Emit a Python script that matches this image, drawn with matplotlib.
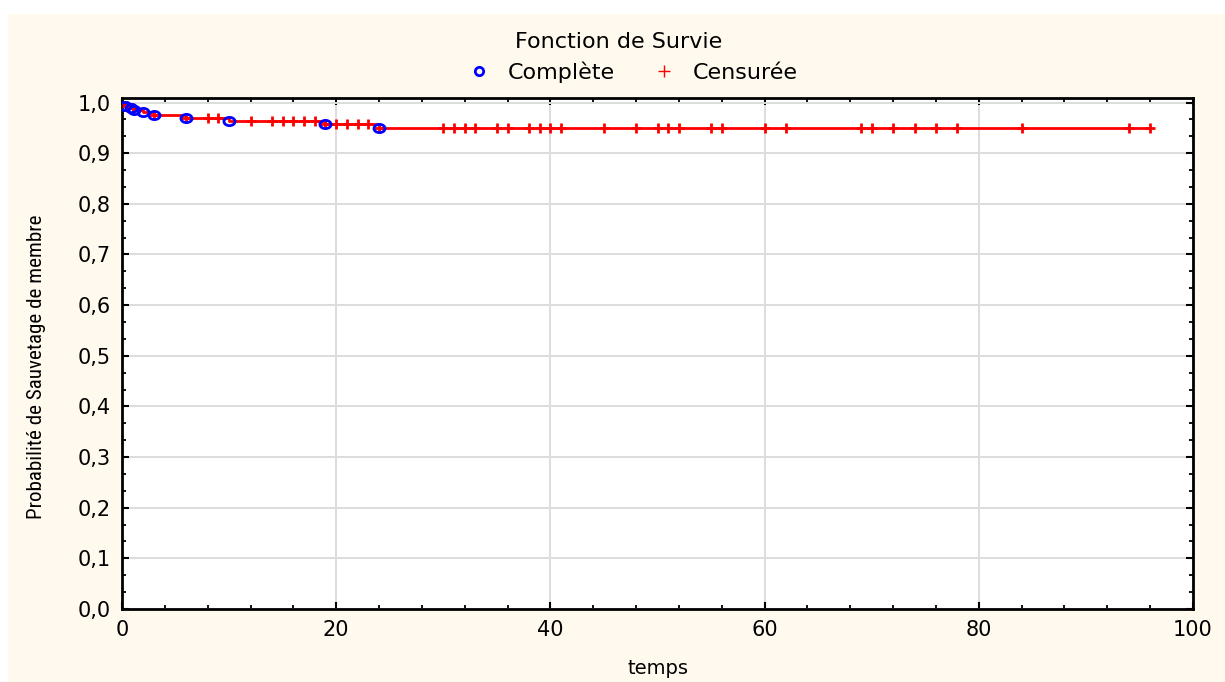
import numpy as np
import matplotlib
matplotlib.use("Agg")
import matplotlib.pyplot as plt
from matplotlib.path import Path
from matplotlib.transforms import Affine2D
from matplotlib.ticker import AutoMinorLocator, FuncFormatter
from matplotlib.lines import Line2D
from matplotlib.patches import Rectangle
from matplotlib import font_manager
from matplotlib.font_manager import FontProperties

# ---- data ----
event_times = [0.3, 0.8, 1.1, 2, 3, 6, 10, 19, 24]
event_surv = [0.994, 0.990, 0.986, 0.982, 0.976, 0.969, 0.963, 0.957, 0.949]
censored_times = [0.5, 1, 3, 6, 8, 9, 12, 14, 15, 16, 17, 18, 19, 20, 21, 22, 23, 24,
                  30, 31, 32, 33, 35, 36, 38, 39, 40, 41, 45, 48, 50, 51, 52, 55, 56,
                  60, 62, 69, 70, 72, 74, 76, 78, 84, 94, 96]
x_ticks = [0, 20, 40, 60, 80, 100]
y_ticks = [0.0, 0.1, 0.2, 0.3, 0.4, 0.5, 0.6, 0.7, 0.8, 0.9, 1.0]

title = "Fonction de Survie"
label_event = "Complète"
label_cens = "Censurée"
xlabel = "temps"
ylabel = "Probabilité de Sauvetage de membre"

# step function built from the events
step_t = np.array([0.0] + list(event_times) + [max(censored_times)])
step_s = np.array([1.0] + list(event_surv) + [event_surv[-1]])

def level(t):
    idx = np.searchsorted(step_t[:-1], t, side="right") - 1
    return step_s[idx]

cens_surv = [level(t) for t in censored_times]

# look for a condensed/narrow face for the y label
def find_condensed():
    cands = []
    for f in font_manager.fontManager.ttflist:
        nm = f.name
        path = f.fname
        low = (nm + " " + path).lower()
        is_cond = (str(f.stretch) in ("condensed", "semi-condensed", "extra-condensed")
                   or "narrow" in low or "condensed" in low)
        if not is_cond:
            continue
        if f.style != "normal":
            continue
        if f.weight not in (400, "normal", "regular"):
            continue
        if "bold" in low or "italic" in low or "light" in low or "oblique" in low \
                or "semibold" in low or "medium" in low or "thin" in low or "black" in low:
            continue
        if "cjk" in low or "mono" in low:
            continue
        pri = 9
        for i, key in enumerate(["liberation", "roboto", "open", "noto", "dejavu"]):
            if key in low:
                pri = i
                break
        cands.append((pri, path))
    cands.sort()
    return cands[0][1] if cands else None

cond_path = find_condensed()

W, H = 1225, 682
fig = plt.figure(figsize=(W / 100, H / 100), dpi=100)
fig.patch.set_facecolor("white")
cream = "#FFF9EE"
fig.patches.append(Rectangle((8 / W, 0), 1 - 8 / W, 1 - 14 / H, transform=fig.transFigure,
                             facecolor=cream, edgecolor="none", zorder=-10))

ax = fig.add_axes([122 / W, 1 - 609 / H, (1193 - 122) / W, (609 - 98) / H])
ax.set_facecolor("white")
ax.set_xlim(0, 100)
ax.set_ylim(0, 1.009)

ax.set_xticks(x_ticks)
ax.set_yticks(y_ticks)
ax.xaxis.set_minor_locator(AutoMinorLocator(5))
ax.yaxis.set_minor_locator(AutoMinorLocator(3))
ax.yaxis.set_major_formatter(FuncFormatter(lambda v, p: f"{v:.1f}".replace(".", ",")))
ax.xaxis.set_major_formatter(FuncFormatter(lambda v, p: f"{v:.0f}"))

ax.grid(True, which="major", color="#DDDDDD", linewidth=1.4, zorder=0)
ax.set_axisbelow(True)

ax.tick_params(which="both", direction="in", top=True, right=True, colors="black")
ax.tick_params(which="major", length=5, width=1.5, pad=8, labelsize=15)
ax.tick_params(which="minor", length=3, width=1.3)
for s in ax.spines.values():
    s.set_linewidth(2)
    s.set_color("black")

# step line
ax.step(step_t, step_s, where="post", color="#FF0000", linewidth=2, zorder=3)

# censored marks
ax.plot(censored_times, cens_surv, linestyle="none", marker="+", markersize=7.5,
        markeredgewidth=2, color="#FF0000", zorder=4)

# events: ellipse-shaped open markers
ell = Path.unit_circle().transformed(Affine2D().scale(1.35, 1.0))
ax.plot(event_times, event_surv, linestyle="none", marker=ell, markersize=8,
        markerfacecolor="none", markeredgecolor="#0000FF", markeredgewidth=2, zorder=5)

font_h = ["DejaVu Sans"]
ax.set_xlabel(xlabel, fontsize=14, family=font_h, va="center")
ax.xaxis.set_label_coords(0.5, -0.1155)

if cond_path:
    yprop = FontProperties(fname=cond_path, size=16)
else:
    yprop = FontProperties(family=["Liberation Sans", "DejaVu Sans"], size=13.5)
ylab = ax.set_ylabel(ylabel, fontproperties=yprop, va="center")
ax.yaxis.set_label_coords(-0.0794, 0.4736)

# calibrate the y label length to the reference (~305 px)
fig.canvas.draw()
ext = ylab.get_window_extent(fig.canvas.get_renderer())
if ext.height > 0:
    ylab.set_fontsize(yprop.get_size() * 305.0 / ext.height)

fig.text(618.5 / W, 1 - 42 / H, title, fontsize=16, family=font_h, ha="center", va="center")

handles = [
    Line2D([], [], linestyle="none", marker="o", markersize=6, markerfacecolor="none",
           markeredgecolor="#0000FF", markeredgewidth=2),
    Line2D([], [], linestyle="none", marker="+", markersize=8, markeredgewidth=1,
           color="#FF0000"),
]
fig.legend(handles, [label_event, label_cens], loc="center", ncol=2, frameon=False,
           bbox_to_anchor=(632 / W, 1 - 72 / H), prop={"family": "DejaVu Sans", "size": 16},
           handlelength=1.2, handletextpad=0.7, columnspacing=1.6)

fig.savefig("out.png", dpi=100, facecolor=fig.get_facecolor())
